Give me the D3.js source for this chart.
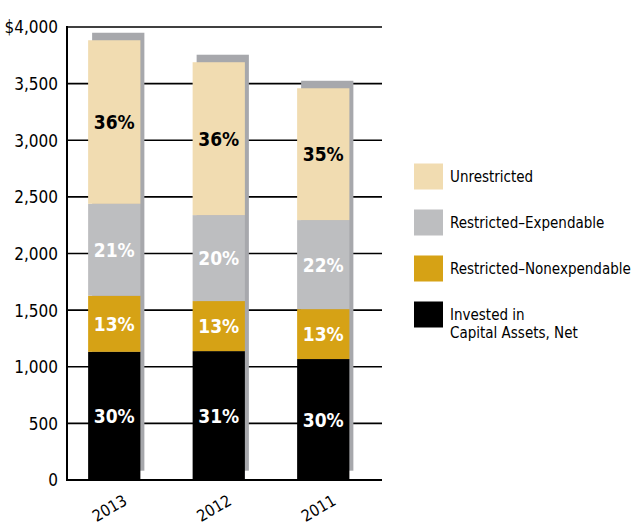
<!DOCTYPE html>
<html>
<head>
<meta charset="utf-8">
<script src="https://cdn.jsdelivr.net/npm/d3@7"></script>
<style>
  body { margin: 0; background: #fff; }
  svg text { font-family: "Liberation Sans Narrow", "DejaVu Sans Condensed", "Open Sans", sans-serif; }
</style>
</head>
<body>
<div id="graph"></div>
<script>
// years shown left to right
var years = ["2013", "2012", "2011"];
// net position components ($ millions), bottom to top
var invested = [1132, 1138, 1068];
var nonexpendable = [495, 442, 441];
var expendable = [812, 759, 786];
var unrestricted = [1444, 1350, 1164];
// percent labels printed in the bars
var pctInvested = ["30%", "31%", "30%"];
var pctNonexp = ["13%", "13%", "13%"];
var pctExp = ["21%", "20%", "22%"];
var pctUnres = ["36%", "36%", "35%"];
var yTicks = [0, 500, 1000, 1500, 2000, 2500, 3000, 3500, 4000];
var legendLabels = [["Unrestricted"], ["Restricted\u2013Expendable"], ["Restricted\u2013Nonexpendable"], ["Invested in", "Capital Assets, Net"]];

var keys = ["invested", "nonexp", "exp", "unres"];
var colors = {invested: "#000000", nonexp: "#d6a215", exp: "#bdbec0", unres: "#f1dcb1"};
var labelColors = {invested: "#fff", nonexp: "#fff", exp: "#fff", unres: "#000"};

var data = years.map(function(y, i) {
  return {year: y, invested: invested[i], nonexp: nonexpendable[i], exp: expendable[i], unres: unrestricted[i],
    pct: {invested: pctInvested[i], nonexp: pctNonexp[i], exp: pctExp[i], unres: pctUnres[i]}};
});

var svg = d3.select("#graph").append("svg")
  .attr("width", 637)
  .attr("height", 529);

var xScale = d3.scaleBand()
  .domain(years)
  .range([62, 375.5])
  .paddingInner(0.5)
  .paddingOuter(0.25);

var yScale = d3.scaleLinear()
  .domain([0, 4000])
  .range([480, 27]);

// grid lines
svg.append("g")
  .selectAll("line")
  .data(yTicks.slice(1))
  .enter().append("line")
  .attr("x1", 67).attr("x2", 382)
  .attr("y1", d => yScale(d)).attr("y2", d => yScale(d))
  .attr("stroke", "#000")
  .attr("stroke-width", 1.6);

var stack = d3.stack().keys(keys)(data);

// shadow behind each bar
svg.append("g")
  .selectAll("rect")
  .data(data)
  .enter().append("rect")
  .attr("x", d => xScale(d.year) + 4)
  .attr("width", xScale.bandwidth())
  .attr("y", d => yScale(d.invested + d.nonexp + d.exp + d.unres) - 7.5)
  .attr("height", d => yScale(0) - 9.3 - (yScale(d.invested + d.nonexp + d.exp + d.unres) - 7.5))
  .attr("fill", "#a7a8ac");

var layers = svg.append("g")
  .selectAll("g")
  .data(stack)
  .enter().append("g")
  .attr("fill", d => colors[d.key]);

layers.selectAll("rect")
  .data(d => d)
  .enter().append("rect")
  .attr("x", d => xScale(d.data.year))
  .attr("width", xScale.bandwidth())
  .attr("y", d => yScale(d[1]))
  .attr("height", d => yScale(d[0]) - yScale(d[1]));

// percent labels
stack.forEach(function(layer) {
  svg.append("g")
    .selectAll("text")
    .data(layer)
    .enter().append("text")
    .attr("x", d => xScale(d.data.year) + xScale.bandwidth() / 2)
    .attr("y", d => (yScale(d[0]) + yScale(d[1])) / 2 + 7)
    .attr("text-anchor", "middle")
    .attr("font-size", "19px")
    .attr("font-weight", "bold")
    .attr("fill", labelColors[layer.key])
    .text(d => d.data.pct[layer.key]);
});

// Y axis
var yAxis = svg.append("g")
  .attr("transform", "translate(67,0)")
  .call(d3.axisLeft(yScale)
    .tickValues(yTicks)
    .tickSize(0)
    .tickPadding(9)
    .tickFormat(d => (d === 4000 ? "$" : "") + d3.format(",")(d)));
yAxis.select(".domain").remove();
yAxis.selectAll("text")
  .attr("font-size", "17px")
  .attr("fill", "#000")
  .attr("dy", "0.35em");

svg.append("line")
  .attr("x1", 67).attr("x2", 67)
  .attr("y1", yScale(4000) - 1).attr("y2", yScale(0) + 1)
  .attr("stroke", "#000").attr("stroke-width", 2);
svg.append("line")
  .attr("x1", 66).attr("x2", 382)
  .attr("y1", yScale(0)).attr("y2", yScale(0))
  .attr("stroke", "#000").attr("stroke-width", 2);

// X labels, rotated
svg.append("g")
  .selectAll("text")
  .data(years)
  .enter().append("text")
  .attr("transform", d => "translate(" + (xScale(d) + xScale.bandwidth() / 2 - 2) + ",513) rotate(-30)")
  .attr("text-anchor", "middle")
  .attr("font-size", "16px")
  .attr("fill", "#000")
  .text(d => d);

// legend
var legend = svg.append("g")
  .selectAll("g")
  .data(legendLabels)
  .enter().append("g")
  .attr("transform", (d, i) => "translate(414," + (163.5 + i * 46) + ")");

legend.append("rect")
  .attr("width", 29)
  .attr("height", 26)
  .attr("fill", (d, i) => colors[keys[3 - i]]);

legend.each(function(lines) {
  var t = d3.select(this).append("text")
    .attr("font-size", "15px")
    .attr("fill", "#000");
  lines.forEach(function(l, j) {
    t.append("tspan")
      .attr("x", 36)
      .attr("y", 18 + j * 18)
      .text(l);
  });
});
</script>
</body>
</html>
